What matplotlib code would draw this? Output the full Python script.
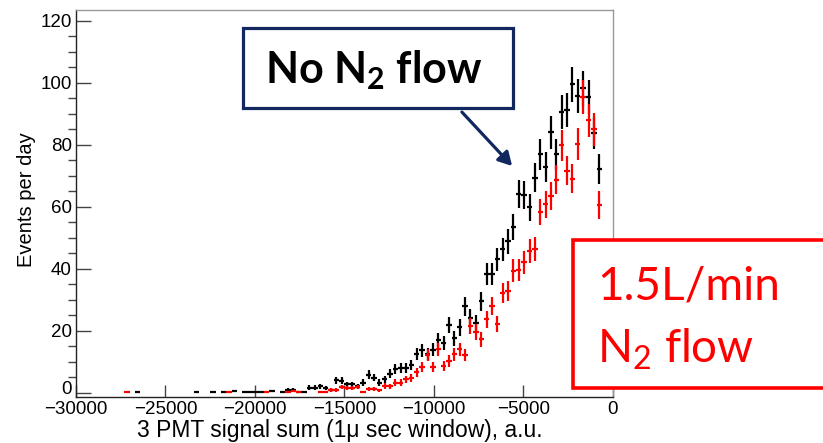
import numpy as np
import matplotlib
matplotlib.use("Agg")
import matplotlib.pyplot as plt
import matplotlib.transforms as mtransforms
from matplotlib.patches import Rectangle, FancyArrowPatch

# ---------------- data (events per day, per 300-wide bin) ----------------
bin_centers = np.arange(-29850, -600, 300)   # 98 bins, -29850 ... -750

no_flow = {  # black: no N2 flow
    -26550: 0.3, -23250: 0.3, -22350: 0.3, -21750: 0.3, -21150: 0.4,
    -20550: 0.3, -20250: 0.3, -19950: 0.3, -19650: 0.3, -19050: 0.4,
    -18450: 0.3, -18150: 0.8, -17850: 0.8, -17550: 0.3, -17250: 0.3,
    -16950: 1.6, -16650: 1.6, -16350: 2.0, -16050: 1.3, -15750: 0.8,
    -15450: 4.0, -15150: 3.8, -14850: 2.6, -14550: 2.6, -14250: 2.0,
    -13950: 3.2, -13650: 5.8, -13350: 4.8, -13050: 3.2, -12750: 4.3,
    -12450: 6.1, -12150: 7.5, -11850: 7.8, -11550: 7.8, -11250: 8.8,
    -10950: 12.5, -10650: 13.6, -10350: 12.4, -10050: 13.8, -9750: 17.0,
    -9450: 16.1, -9150: 21.8, -8850: 17.5, -8550: 21.0, -8250: 27.8,
    -7950: 24.2, -7650: 22.4, -7350: 29.5, -7050: 38.3, -6750: 38.3,
    -6450: 43.0, -6150: 46.2, -5850: 48.8, -5550: 53.4, -5250: 64.0,
    -4950: 63.7, -4650: 59.8, -4350: 69.4, -4050: 77.0, -3750: 72.7,
    -3450: 84.0, -3150: 77.0, -2850: 90.6, -2550: 91.2, -2250: 99.6,
    -1950: 95.8, -1650: 98.2, -1350: 95.4, -1050: 83.9, -750: 72.3,
}
n2_flow = {  # red: 1.5 L/min N2 flow
    -27150: 0.3, -21450: 0.3, -19350: 0.3, -18150: 0.3, -17850: 0.4,
    -17550: 0.3, -16350: 0.3, -16050: 0.3, -15750: 0.8, -15450: 0.8,
    -15150: 1.8, -14850: 1.3, -14550: 1.4, -14250: 1.8, -13950: 0.3,
    -13650: 1.1, -13350: 1.1, -13050: 0.7, -12750: 2.1, -12450: 2.0,
    -12150: 3.2, -11850: 3.2, -11550: 4.3, -11250: 4.6, -10950: 6.5,
    -10650: 8.1, -10350: 12.0, -10050: 8.1, -9750: 14.0, -9450: 8.6,
    -9150: 10.2, -8850: 12.3, -8550: 14.0, -8250: 12.0, -7950: 21.5,
    -7650: 19.5, -7350: 17.2, -7050: 23.7, -6750: 28.0, -6450: 22.1,
    -6150: 32.3, -5850: 32.9, -5550: 39.4, -5250: 39.6, -4950: 42.0,
    -4650: 45.8, -4350: 46.4, -4050: 58.3, -3750: 60.8, -3450: 63.4,
    -3150: 68.7, -2850: 79.8, -2550: 71.7, -2250: 69.0, -1950: 80.3,
    -1650: 95.4, -1350: 87.9, -1050: 85.0, -750: 60.6,
}
live_days = 3.1          # exposure used to turn counts into per-day rate (Poisson errors)
bin_width = 300

x_ticks = [-30000, -25000, -20000, -15000, -10000, -5000, 0]
x_tick_labels = ["\u221230000", "\u221225000", "\u221220000", "\u221215000",
                 "\u221210000", "\u22125000", "0"]
y_ticks = [0, 20, 40, 60, 80, 100, 120]
y_tick_labels = ["0", "20", "40", "60", "80", "100", "120"]

x_title = "3 PMT signal sum (1\u03bc sec window), a.u."
y_title = "Events per day"

# ---------------- figure ----------------
plt.rcParams['font.family'] = ['Liberation Sans', 'DejaVu Sans']
plt.rcParams['mathtext.fontset'] = 'custom'
plt.rcParams['mathtext.rm'] = 'Lato'
plt.rcParams['mathtext.bf'] = 'Lato:bold'

W, H = 823, 443
fig = plt.figure(figsize=(W / 100, H / 100), dpi=100)
L, R, T, B = 76, 612.7, 10, 396.5
ax = fig.add_axes([L / W, 1 - B / H, (R - L) / W, (B - T) / H])


def series(d):
    xs = np.array([c for c in bin_centers if c in d], dtype=float)
    ys = np.array([d[int(c)] for c in xs])
    return xs, ys


for d, col in ((no_flow, 'black'), (n2_flow, '#ff0000')):
    xs, ys = series(d)
    err = np.sqrt(ys / live_days)
    ax.errorbar(xs, ys, xerr=bin_width / 2, yerr=err, fmt='none',
                ecolor=col, elinewidth=1.6, capsize=0)

ax.set_xlim(-30000, 0)
ax.set_ylim(-1.29, 123.55)
ax.set_xticks(x_ticks)
ax.set_xticklabels(x_tick_labels)
ax.set_yticks(y_ticks)
ax.set_yticklabels(y_tick_labels)
ax.set_yticks(np.arange(0, 125, 5), minor=True)
ax.tick_params(axis='both', direction='in', labelsize=13.5, colors='black')
ax.tick_params(axis='y', which='major', length=11, width=1.0, pad=3, color='#444444')
ax.tick_params(axis='y', which='minor', length=5.8, width=1.0, color='#444444')
ax.tick_params(axis='x', which='major', length=8.6, width=1.0, pad=3, color='#444444')
for s in ('top', 'right'):
    ax.spines[s].set_color('#999999')
    ax.spines[s].set_linewidth(1.0)
for s in ('left', 'bottom'):
    ax.spines[s].set_color('#222222')
    ax.spines[s].set_linewidth(1.0)

# lift the y "0" label slightly, as in the reference, so it clears the x labels
zero_lbl = ax.get_yticklabels()[0]
zero_lbl.set_transform(zero_lbl.get_transform() +
                       mtransforms.ScaledTranslation(0, 5 / 100, fig.dpi_scale_trans))

fig.text(340 / W, 1 - 430 / H, x_title, ha='center', va='center', fontsize=16.5)
fig.text(26 / W, 1 - 200 / H, y_title, ha='center', va='center', rotation=90, fontsize=14.5)

# ---------------- annotations ----------------
navy = '#12275f'
fig.patches.append(Rectangle((243 / W, 1 - 108 / H), (513 - 243) / W, (108 - 28) / H,
                             transform=fig.transFigure, facecolor='white',
                             edgecolor=navy, linewidth=2.3, zorder=5))
fig.text(265 / W, 1 - 83.3 / H, r"No $\mathbf{N}_\mathbf{2}$ flow", ha='left', va='baseline',
         fontsize=31, fontweight='bold', family='Lato', color='black', zorder=6)
arr = FancyArrowPatch((460 / W, 1 - 110 / H), (514 / W, 1 - 168 / H),
                      transform=fig.transFigure, arrowstyle='-|>,head_length=8,head_width=4.5',
                      color=navy, linewidth=2.3, zorder=6)
fig.patches.append(arr)

fig.patches.append(Rectangle((573 / W, 1 - 388 / H), (840 - 573) / W, (388 - 240) / H,
                             transform=fig.transFigure, facecolor='white',
                             edgecolor='#ff0000', linewidth=2.6, zorder=5, clip_on=False))
fig.text(597 / W, 1 - 300 / H, "1.5L/min", ha='left', va='baseline',
         fontsize=33, family='Lato', color='#ff0000', zorder=6)
fig.text(597 / W, 1 - 363 / H, r"$\mathrm{N}_\mathrm{2}$ flow", ha='left', va='baseline',
         fontsize=33, family='Lato', color='#ff0000', zorder=6)

fig.savefig("out.png", dpi=100)
